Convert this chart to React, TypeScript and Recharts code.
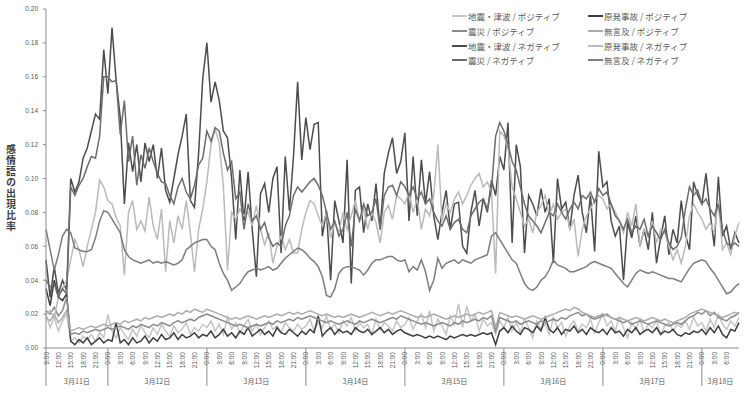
import React from 'react';
import { LineChart, Line, XAxis, YAxis, Legend } from 'recharts';

// Series values (hourly, 3/11 9:00 -> 3/18 9:00)
const QUAKE_POS = [
  .020,.012,.018,.010,.016,.020,.004,.006,.003,.007,.005,.008,.004,.009,.006,
  .020,.010,.006,.012,.008,.005,.011,.007,.013,.009,.006,.012,.008,.014,.010,.007,.013,.009,.011,.015,.008,.012,.010,.014,
  .012,.016,.010,.014,.008,.018,.011,.015,.009,.013,.017,.010,.014,.008,.012,.016,.011,.013,.009,.015,.012,.010,.014,.011,
  .013,.017,.010,.015,.012,.019,.011,.014,.009,.016,.013,.018,.010,.015,.012,.014,.008,.017,.011,.015,.013,.010,.016,.012,
  .014,.018,.011,.016,.020,.012,.022,.010,.017,.013,.008,.019,.014,.026,.012,.025,.016,.020,.010,.017,.013,.015,.008,.016,
  .012,.018,.010,.015,.009,.017,.012,.006,.016,.011,.014,.008,.018,.012,.015,.007,.013,.016,.010,.014,.012,.017,.009,.015,
  .020,.013,.016,.010,.018,.012,.006,.015,.011,.017,.009,.014,.012,.016,.008,.013,.015,.010,.014,.012,.016,.011,.018,.013,
  .015,.010,.017,.012,.020,.014,.011,.016,.013,.018,
];
const NUCLEAR_POS = [
  .035,.025,.040,.030,.028,.032,.004,.002,.005,.003,.006,.002,.004,.006,.003,
  .005,.004,.015,.003,.005,.002,.006,.003,.004,.007,.003,.006,.004,.008,.005,.006,.009,.005,.008,.006,.007,.009,.006,.008,
  .007,.010,.006,.008,.011,.007,.009,.006,.010,.008,.012,.007,.009,.011,.008,.010,.007,.012,.009,.008,.011,.009,.007,.010,
  .008,.011,.009,.019,.007,.010,.012,.008,.011,.009,.010,.008,.012,.010,.009,.011,.008,.010,.012,.009,.011,.008,.010,.011,
  .009,.008,.007,.008,.007,.006,.007,.006,.007,.006,.005,.007,.006,.007,.008,.007,.008,.007,.008,.009,.008,.009,.002,.010,
  .012,.009,.013,.010,.008,.012,.011,.009,.013,.010,.018,.011,.009,.012,.008,.011,.010,.013,.009,.011,.008,.012,.010,.009,
  .011,.008,.012,.009,.010,.007,.011,.009,.012,.008,.010,.011,.009,.012,.008,.010,.009,.011,.008,.007,.009,.008,.010,.009,
  .011,.008,.012,.009,.013,.008,.006,.011,.010,.015,
];
const DISASTER_POS = [
  .022,.020,.024,.019,.022,.030,.008,.009,.008,.010,.009,.010,.011,.010,.011,
  .012,.011,.012,.013,.012,.011,.013,.012,.014,.013,.012,.014,.013,.015,.014,.013,.015,.016,.015,.016,.017,.016,.018,.019,
  .020,.019,.018,.017,.016,.015,.014,.013,.014,.013,.012,.013,.014,.013,.014,.015,.014,.016,.015,.016,.017,.016,.018,.017,
  .018,.019,.018,.017,.016,.015,.016,.015,.014,.015,.016,.015,.014,.016,.015,.016,.017,.016,.015,.016,.017,.018,.017,.019,
  .018,.017,.016,.015,.014,.015,.014,.013,.014,.015,.014,.013,.015,.014,.016,.015,.016,.017,.016,.018,.017,.019,.010,.018,
  .017,.016,.015,.016,.014,.015,.016,.015,.014,.016,.015,.016,.017,.016,.018,.017,.019,.020,.021,.019,.020,.018,.017,.018,
  .019,.020,.018,.017,.016,.015,.016,.014,.015,.016,.015,.014,.015,.016,.015,.014,.013,.014,.015,.014,.016,.018,.019,.021,
  .020,.022,.019,.021,.018,.017,.016,.018,.019,.021,
];
const NOMENTION_POS = [
  .018,.016,.020,.015,.018,.022,.010,.011,.012,.011,.012,.013,.012,.013,.014,
  .013,.014,.015,.014,.016,.015,.016,.017,.016,.018,.017,.018,.019,.018,.019,.020,.019,.021,.020,.022,.021,.023,.022,.021,
  .023,.022,.021,.020,.019,.018,.017,.018,.017,.018,.019,.018,.017,.018,.019,.018,.019,.020,.019,.020,.021,.020,.021,.020,
  .021,.022,.021,.020,.019,.020,.019,.018,.019,.018,.019,.020,.019,.018,.019,.020,.021,.020,.019,.020,.021,.020,.021,.022,
  .021,.020,.019,.018,.019,.018,.019,.020,.019,.018,.017,.018,.019,.018,.019,.020,.019,.020,.021,.020,.021,.022,.012,.021,
  .020,.019,.018,.019,.018,.017,.018,.019,.018,.017,.018,.019,.020,.021,.022,.023,.022,.024,.023,.021,.020,.019,.018,.019,
  .020,.019,.018,.017,.018,.017,.016,.017,.018,.017,.016,.017,.018,.017,.016,.017,.016,.015,.016,.017,.018,.020,.021,.022,
  .023,.022,.021,.020,.019,.018,.019,.020,.021,.020,
];
const QUAKE_NEG = [
  .052,.030,.048,.032,.040,.034,.100,.092,.098,.112,.118,.128,.138,.135,.176,
  .150,.189,.158,.136,.085,.121,.104,.120,.098,.121,.110,.120,.100,.118,.093,.086,.100,.114,.125,.138,.087,.083,.115,.159,
  .180,.145,.157,.146,.128,.124,.100,.064,.105,.075,.104,.070,.042,.091,.097,.080,.100,.107,.056,.113,.081,.113,.157,.111,
  .136,.117,.132,.133,.066,.081,.040,.087,.075,.062,.111,.038,.093,.095,.068,.085,.075,.097,.070,.103,.115,.124,.103,.110,
  .127,.075,.113,.078,.111,.085,.104,.078,.064,.080,.093,.070,.085,.086,.060,.056,.080,.093,.072,.088,.080,.099,.090,.113,
  .105,.133,.062,.120,.107,.056,.090,.085,.078,.094,.080,.088,.050,.100,.082,.086,.070,.090,.102,.080,.068,.090,.057,.116,
  .095,.098,.075,.066,.072,.040,.074,.065,.078,.060,.070,.058,.080,.050,.065,.078,.055,.070,.062,.087,.067,.058,.098,.090,
  .085,.103,.080,.060,.101,.066,.072,.058,.068,.062,
];
const NUCLEAR_NEG = [
  .020,.022,.018,.030,.035,.040,.052,.064,.058,.048,.060,.070,.080,.099,.095,
  .087,.085,.077,.072,.043,.080,.087,.070,.075,.069,.089,.072,.064,.082,.045,.075,.062,.078,.070,.087,.068,.045,.070,.082,
  .098,.120,.129,.121,.095,.046,.080,.076,.082,.078,.080,.072,.084,.070,.061,.068,.050,.060,.066,.058,.064,.056,.056,.070,
  .080,.087,.085,.078,.072,.080,.065,.074,.068,.080,.070,.078,.087,.075,.082,.070,.080,.074,.062,.080,.084,.076,.090,.088,
  .085,.092,.080,.088,.070,.082,.078,.090,.120,.075,.085,.080,.088,.092,.085,.090,.096,.100,.103,.095,.098,.092,.044,.128,
  .125,.118,.095,.088,.080,.072,.076,.068,.080,.084,.090,.078,.085,.076,.080,.082,.070,.076,.054,.070,.078,.082,.087,.090,
  .088,.082,.085,.080,.075,.068,.080,.072,.085,.060,.070,.066,.075,.062,.070,.068,.060,.052,.058,.050,.060,.078,.085,.080,
  .076,.070,.074,.068,.087,.058,.062,.055,.066,.074,
];
const DISASTER_NEG = [
  .040,.036,.038,.030,.035,.032,.095,.090,.096,.100,.107,.113,.112,.125,.160,
  .160,.157,.158,.126,.146,.110,.125,.096,.114,.106,.118,.110,.103,.098,.097,.090,.085,.095,.100,.092,.088,.096,.108,.112,
  .128,.122,.130,.128,.115,.105,.110,.088,.092,.070,.085,.075,.078,.070,.074,.065,.060,.062,.060,.072,.078,.090,.095,.092,
  .095,.098,.100,.096,.090,.080,.070,.075,.066,.070,.080,.060,.082,.075,.085,.078,.080,.088,.070,.090,.095,.096,.090,.098,
  .095,.090,.095,.088,.092,.085,.088,.080,.075,.072,.078,.070,.074,.076,.070,.068,.078,.082,.086,.088,.082,.094,.125,.133,
  .128,.120,.110,.105,.095,.085,.078,.075,.072,.068,.074,.080,.078,.085,.080,.076,.082,.086,.082,.090,.088,.092,.086,.094,
  .090,.092,.085,.078,.075,.070,.076,.068,.072,.070,.076,.066,.072,.068,.064,.070,.062,.058,.060,.065,.082,.095,.090,.093,
  .085,.088,.082,.078,.085,.070,.062,.060,.062,.060,
];
const NOMENTION_NEG = [
  .070,.058,.046,.055,.066,.070,.068,.059,.058,.057,.057,.058,.065,.075,.081,
  .080,.076,.072,.068,.058,.054,.052,.051,.050,.051,.052,.050,.051,.050,.051,.050,.049,.050,.052,.058,.060,.062,.063,.064,
  .064,.060,.058,.050,.044,.040,.034,.036,.038,.042,.045,.046,.047,.046,.047,.048,.046,.047,.050,.053,.055,.057,.059,.058,
  .056,.053,.051,.048,.042,.031,.030,.035,.044,.047,.048,.048,.047,.046,.043,.046,.050,.052,.052,.053,.054,.054,.052,.051,
  .052,.045,.048,.046,.052,.045,.034,.040,.053,.047,.050,.051,.052,.050,.052,.051,.050,.052,.053,.054,.055,.066,.068,.064,
  .060,.056,.052,.050,.044,.038,.035,.034,.036,.040,.042,.046,.052,.049,.048,.047,.045,.045,.046,.047,.048,.050,.051,.050,
  .049,.048,.047,.044,.041,.038,.036,.040,.044,.046,.045,.044,.045,.044,.043,.042,.041,.041,.040,.039,.043,.047,.050,.051,
  .052,.051,.047,.044,.040,.036,.032,.033,.036,.038,
];

const SERIES_NAMES = [
  '地震・津波 / ポジティブ',
  '原発事故 / ポジティブ',
  '震災 / ポジティブ',
  '無言及 / ポジティブ',
  '地震・津波 / ネガティブ',
  '原発事故 / ネガティブ',
  '震災 / ネガティブ',
  '無言及 / ネガティブ',
];
const SERIES_VALUES = [QUAKE_POS, NUCLEAR_POS, DISASTER_POS, NOMENTION_POS, QUAKE_NEG, NUCLEAR_NEG, DISASTER_NEG, NOMENTION_NEG];
const SERIES_COLORS = ['#c4c4c4', '#3c3c3c', '#8a8a8a', '#ababab', '#4c4c4c', '#bababa', '#6c6c6c', '#7c7c7c'];

const DAY_LABELS = ['3月11日', '3月12日', '3月13日', '3月14日', '3月15日', '3月16日', '3月17日', '3月18日'];
const DAY_BOUNDS = [9, 24, 48, 72, 96, 120, 144, 168, 177];
const Y_TICKS = [0, 0.02, 0.04, 0.06, 0.08, 0.1, 0.12, 0.14, 0.16, 0.18, 0.2];
const Y_TITLE = '感情語の出現比率';
const START_HOUR = 9;
const END_HOUR = 177;

const HOURS = QUAKE_NEG.map((_, i) => START_HOUR + i);
const HOUR_TICKS = HOURS.filter((h) => h % 3 === 0 && h <= 174);
const DAY_CENTERS = DAY_LABELS.map((_, i) => (DAY_BOUNDS[i] + DAY_BOUNDS[i + 1]) / 2);

const data = HOURS.map((h, i) => {
  const row: Record<string, number> = { h };
  SERIES_VALUES.forEach((arr, k) => {
    row['s' + k] = arr[i];
  });
  return row;
});

const FONT = "'Liberation Sans', Arial, 'Noto Sans CJK JP', sans-serif";
const JP_FONT = "'Noto Sans CJK JP', 'Liberation Sans', sans-serif";
const AXIS_COLOR = '#8c8c8c';
const TEXT_COLOR = '#595959';

const HourTick = (props: any) => {
  const { x, y, payload } = props;
  const h = payload.value;
  const hod = h % 24;
  const sep = hod === 0 || h === START_HOUR;
  const ty = y + 4;
  return (
    <g>
      {sep && <line x1={x} x2={x} y1={y} y2={y + 38} stroke={AXIS_COLOR} strokeWidth={1} />}
      <text
        x={x}
        y={ty}
        transform={`rotate(-90 ${x} ${ty})`}
        textAnchor="end"
        dominantBaseline="central"
        fontSize={6.5}
        fontFamily={FONT}
        fill={TEXT_COLOR}
      >
        {`${hod}:00`}
      </text>
    </g>
  );
};

const DayTick = (props: any) => {
  const { x, y, index } = props;
  return (
    <text x={x} y={y + 3} textAnchor="middle" dominantBaseline="central" fontSize={7} fontFamily={JP_FONT} fill={TEXT_COLOR}>
      {DAY_LABELS[index]}
    </text>
  );
};

const renderLegend = () => (
  <div style={{ display: 'grid', gridTemplateColumns: '136px 136px', fontFamily: JP_FONT }}>
    {SERIES_NAMES.map((name, k) => (
      <div key={name} style={{ display: 'flex', alignItems: 'center', height: 14.8, fontSize: 8.5, color: TEXT_COLOR, whiteSpace: 'nowrap' }}>
        <span style={{ display: 'inline-block', width: 15, height: 2, background: SERIES_COLORS[k], marginRight: 1 }} />
        {name}
      </div>
    ))}
  </div>
);

export default function App() {
  return (
    <div style={{ position: 'absolute', left: 0, top: 0, width: 745, height: 397, background: '#fff' }}>
      <LineChart width={745} height={397} data={data} margin={{ top: 9, right: 6, left: 0, bottom: 0 }}>
        <XAxis
          xAxisId="a_hour"
          dataKey="h"
          type="number"
          domain={[START_HOUR, END_HOUR]}
          ticks={HOUR_TICKS}
          interval={0}
          tick={<HourTick />}
          tickLine={false}
          tickSize={0}
          tickMargin={0}
          height={30}
          axisLine={{ stroke: AXIS_COLOR }}
        />
        <XAxis
          xAxisId="b_day"
          dataKey="h"
          type="number"
          domain={[START_HOUR, END_HOUR]}
          ticks={DAY_CENTERS}
          interval={0}
          tick={<DayTick />}
          tickLine={false}
          tickSize={0}
          tickMargin={0}
          height={19}
          axisLine={false}
        />
        <YAxis
          domain={[0, 0.2]}
          ticks={Y_TICKS}
          interval={0}
          width={46}
          tickSize={3}
          tickMargin={5}
          tickFormatter={(v: number) => v.toFixed(2)}
          tick={{ fontSize: 6.5, fill: TEXT_COLOR, fontFamily: FONT }}
          tickLine={{ stroke: AXIS_COLOR }}
          axisLine={{ stroke: AXIS_COLOR }}
        />
        {SERIES_NAMES.map((name, k) => (
          <Line
            key={name}
            xAxisId="a_hour"
            type="linear"
            dataKey={'s' + k}
            name={name}
            stroke={SERIES_COLORS[k]}
            strokeWidth={1.5}
            dot={false}
            activeDot={false}
            isAnimationActive={false}
          />
        ))}
        <Legend
          layout="horizontal"
          verticalAlign="middle"
          align="center"
          content={renderLegend}
          wrapperStyle={{ position: 'absolute', top: 8.6, left: 452, width: 280, height: 60 }}
        />
      </LineChart>
      <svg width={24} height={397} style={{ position: 'absolute', left: 0, top: 0 }}>
        <text
          x={11}
          y={144}
          fontFamily={JP_FONT}
          fontWeight="bold"
          fontSize={10}
          fill="#404040"
          style={{ writingMode: 'vertical-rl', textOrientation: 'upright', letterSpacing: '1.1px' } as any}
        >
          {Y_TITLE}
        </text>
      </svg>
    </div>
  );
}
